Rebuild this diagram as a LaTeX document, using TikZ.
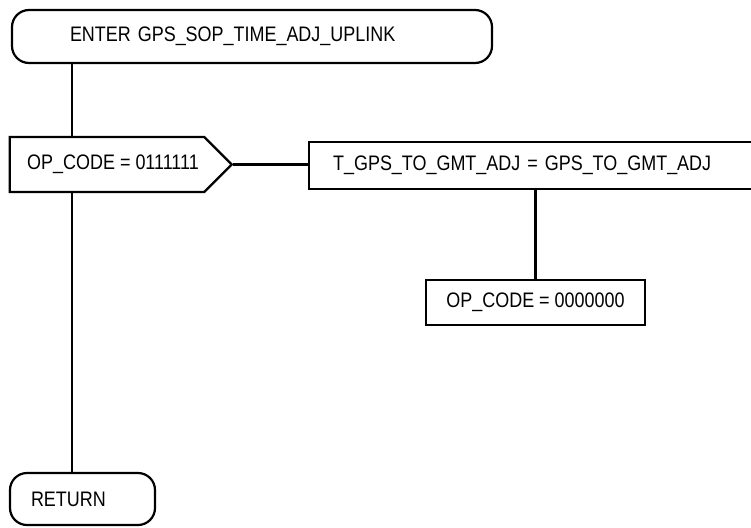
\documentclass[tikz,border=0pt]{standalone}
\usepackage{fontspec}
\setmainfont{Liberation Sans}[FakeStretch=0.855]
\usepackage{tikz}
\usetikzlibrary{shapes,shapes.symbols,backgrounds,calc}
\usetikzlibrary{positioning, shapes.geometric}
\tikzset{
  termbox/.style={ draw, rounded corners=17pt, align=left, inner sep=0pt }
}
\tikzset{
  testbox/.style={ draw, signal, signal to=east, signal pointer angle=90, inner sep=0pt }
}
\tikzset{
  actbox/.style={ draw, rectangle, align=left, inner sep=0pt }
}
\begin{document}
\begin{tikzpicture}[x=1pt, y=-1pt, line width=2.2pt, font=\fontsize{21}{24}\selectfont]
      \useasboundingbox (0, 0) rectangle (751, 527);

      \node[termbox, minimum width=480, minimum height=53, text width=364] (enter) at (252, 36.5) {ENTER GPS\_SOP\_TIME\_ADJ\_UPLINK};
      \coordinate (spine) at (72, 0);

      \node[testbox, minimum width=222, minimum height=55] (test) at (107, 164.5) {\hspace*{12pt}OP\_CODE = 0111111};

      \node[actbox, anchor=west, minimum width=470, minimum height=47, text width=422] (adj) at (308, 165.5) {T\_GPS\_TO\_GMT\_ADJ = GPS\_TO\_GMT\_ADJ};

      \node[actbox, minimum width=219, minimum height=45] (clear) at (535.5, 302.5) {OP\_CODE = 0000000};

      \node[termbox, minimum width=145, minimum height=52, text width=103] (ret) at (82.5, 499) {RETURN};

      \begin{scope}[-]
        \draw (enter.south -| spine) -- (test.north -| spine);
        \draw (test.east) -- (adj.west |- test.east);
        \draw (clear.north) -- (clear.north |- adj.south);
        \draw (test.south -| spine) -- (ret.north -| spine);
      \end{scope}
    \end{tikzpicture}
\end{document}
